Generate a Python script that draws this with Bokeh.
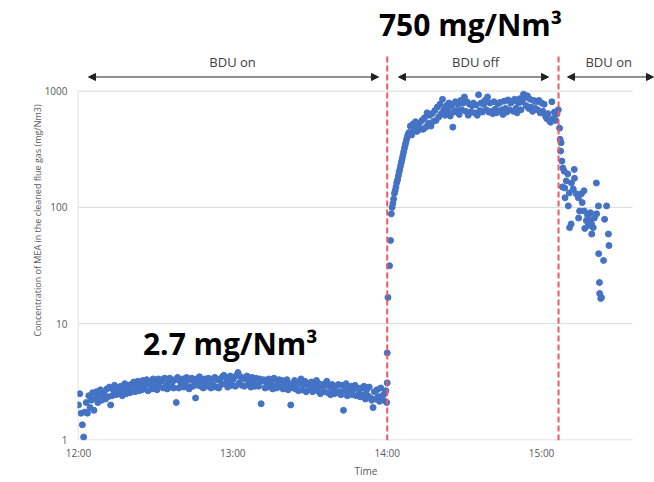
from bokeh.plotting import figure
from bokeh.models import (ColumnDataSource, FixedTicker, NumeralTickFormatter, Label,
                          Arrow, NormalHead, Range1d)
from bokeh.embed import file_html
from bokeh.resources import INLINE

# ---------------- data ----------------
tick_minutes = [0, 60, 120, 180]          # minutes after 12:00
tick_labels = ["12:00", "13:00", "14:00", "15:00"]
y_ticks = [1, 10, 100, 1000]
grid_x_extent = [-0.2, 215.4]             # minutes covered by the gridlines
switch_times = [120, 186.6]               # BDU off at 14:00, BDU on again ~15:07

# BDU on (12:00 - 14:00)
on1_t = [
    0, 0.5, 1, 1.5, 2, 2.5, 3, 3.5, 4, 4.5, 5, 5.5, 6, 6.5, 7, 7.5, 8, 8.5, 9, 9.5,
    10, 10.5, 11, 11.5, 12, 12.5, 13, 13.5, 14, 14.5, 15, 15.5, 16, 16.5, 17, 17.5, 18, 18.5, 19, 19.5,
    20, 20.5, 21, 21.5, 22, 22.5, 23, 23.5, 24, 24.5, 25, 25.5, 26, 26.5, 27, 27.5, 28, 28.5, 29, 29.5,
    30, 30.5, 31, 31.5, 32, 32.5, 33, 33.5, 34, 34.5, 35, 35.5, 36, 36.5, 37, 37.5, 38, 38.5, 39, 39.5,
    40, 40.5, 41, 41.5, 42, 42.5, 43, 43.5, 44, 44.5, 45, 45.5, 46, 46.5, 47, 47.5, 48, 48.5, 49, 49.5,
    50, 50.5, 51, 51.5, 52, 52.5, 53, 53.5, 54, 54.5, 55, 55.5, 56, 56.5, 57, 57.5, 58, 58.5, 59, 59.5,
    60, 60.5, 61, 61.5, 62, 62.5, 63, 63.5, 64, 64.5, 65, 65.5, 66, 66.5, 67, 67.5, 68, 68.5, 69, 69.5,
    70, 70.5, 71, 71.5, 72, 72.5, 73, 73.5, 74, 74.5, 75, 75.5, 76, 76.5, 77, 77.5, 78, 78.5, 79, 79.5,
    80, 80.5, 81, 81.5, 82, 82.5, 83, 83.5, 84, 84.5, 85, 85.5, 86, 86.5, 87, 87.5, 88, 88.5, 89, 89.5,
    90, 90.5, 91, 91.5, 92, 92.5, 93, 93.5, 94, 94.5, 95, 95.5, 96, 96.5, 97, 97.5, 98, 98.5, 99, 99.5,
    100, 100.5, 101, 101.5, 102, 102.5, 103, 103.5, 104, 104.5, 105, 105.5, 106, 106.5, 107, 107.5, 108, 108.5, 109, 109.5,
    110, 110.5, 111, 111.5, 112, 112.5, 113, 113.5, 114, 114.5, 115, 115.5, 116, 116.5, 117, 117.5, 118, 118.5, 119, 119.5,
    119.8, 120, 120,
]
on1_v = [
    2.0, 2.5, 1.7, 1.35, 1.06, 1.74, 2.1, 1.7, 2.4, 1.9, 2.2, 2.55, 1.8, 2.3, 2.6, 2.1, 2.45, 2.7, 2.2, 2.5,
    2.6, 2.25, 2.75, 2.35, 2.85, 2.0, 2.4, 2.7, 2.95, 2.45, 2.5, 2.8, 2.55, 2.9, 2.4, 2.75, 3.05, 2.5, 2.8, 2.95,
    2.55, 3.0, 2.65, 3.15, 2.6, 2.9, 3.2, 2.65, 3.0, 2.7, 3.25, 2.75, 3.0, 3.3, 2.65, 3.05, 3.15, 2.75, 3.35, 2.85,
    3.1, 2.7, 3.35, 2.85, 3.2, 3.3, 2.8, 3.4, 2.95, 2.75, 3.25, 3.4, 2.85, 3.15, 2.8, 3.3, 2.1, 3.45, 2.8, 3.2,
    3.0, 3.35, 2.85, 3.2, 3.45, 2.9, 2.75, 3.3, 3.4, 2.9, 3.2, 2.3, 3.35, 2.95, 3.5, 2.9, 3.2, 2.8, 3.35, 3.05,
    2.9, 3.4, 3.0, 2.8, 3.35, 2.95, 3.45, 2.85, 3.3, 2.8, 3.35, 3.0, 3.5, 3.6, 3.05, 3.4, 2.85, 3.2, 3.55, 2.95,
    3.3, 3.45, 2.9, 3.6, 3.8, 3.1, 3.5, 2.95, 3.4, 2.9, 3.35, 3.55, 3.0, 3.3, 2.85, 3.45, 3.05, 2.9, 3.4, 3.0,
    2.9, 3.35, 2.05, 3.2, 3.3, 2.8, 3.15, 2.85, 3.35, 2.9, 3.2, 2.75, 3.4, 2.9, 2.8, 3.2, 3.3, 2.85, 3.25, 2.75,
    3.1, 2.8, 3.3, 2.7, 3.05, 2.0, 2.9, 2.8, 3.25, 2.75, 3.1, 2.65, 3.05, 3.35, 2.7, 3.0, 3.2, 2.6, 3.05, 2.75,
    2.9, 3.15, 2.6, 3.0, 2.75, 3.25, 2.65, 3.05, 2.5, 2.9, 3.0, 2.6, 2.95, 3.2, 2.55, 2.9, 2.45, 3.0, 2.65, 2.5,
    2.9, 2.55, 3.0, 2.6, 2.45, 2.95, 1.8, 2.65, 3.05, 2.4, 2.8, 2.5, 2.9, 2.45, 2.75, 2.95, 2.4, 2.8, 2.5, 2.35,
    2.8, 2.45, 2.9, 2.25, 2.7, 2.4, 2.85, 2.3, 2.2, 1.9, 2.6, 2.25, 2.7, 2.35, 2.15, 2.8, 2.4, 2.2, 2.5, 2.65,
    2.1, 3.1, 5.6,
]

# BDU off (14:00 - ~15:07)
off_t = [
    120.3, 120.9, 121.3, 121.6, 121.9, 122.2, 122.5, 122.8, 123.1, 123.4, 123.7, 124.0,
    124.3, 124.6, 124.9, 125.2, 125.5, 125.8, 126.1, 126.4, 126.7, 127.0, 127.3, 127.6, 127.9, 128.2,
    128.5, 129, 129.5, 130, 130.5, 131, 131.5, 132, 132.5, 133,
    133.5, 134, 134.5, 135, 135.5, 136, 136.5, 137, 137.5, 138,
    138.5, 139, 139.5, 140, 140.5, 141, 141.5, 142, 142.5, 143,
    143.5, 144, 144.5, 145, 145.5, 146, 146.5, 147, 147.5, 148,
    148.5, 149, 149.5, 150, 150.5, 151, 151.5, 152, 152.5, 153,
    153.5, 154, 154.5, 155, 155.5, 156, 156.5, 157, 157.5, 158,
    158.5, 159, 159.5, 160, 160.5, 161, 161.5, 162, 162.5, 163,
    163.5, 164, 164.5, 165, 165.5, 166, 166.5, 167, 167.5, 168,
    168.5, 169, 169.5, 170, 170.5, 171, 171.5, 172, 172.5, 173,
    173.5, 174, 174.5, 175, 175.5, 176, 176.5, 177, 177.5, 178,
    178.5, 179, 179.5, 180, 180.5, 181, 181.5, 182, 182.5, 183,
    183.5, 184, 184.5, 185, 185.5, 186, 186.5,
]
off_v = [
    16.8, 31.5, 52, 88, 100, 108, 118, 132, 140, 150, 163, 172,
    186, 200, 212, 228, 245, 262, 280, 300, 322, 345, 365, 390, 410, 430,
    440, 500, 420, 520, 460, 545, 450, 505, 530, 470,
    560, 470, 590, 490, 650, 530, 620, 500, 640, 550,
    680, 560, 730, 600, 770, 640, 850, 690, 620, 750,
    670, 790, 610, 740, 490, 660, 810, 680, 770, 630,
    830, 690, 790, 890, 670, 810, 620, 770, 660, 750,
    790, 650, 760, 620, 930, 680, 790, 660, 770, 830,
    690, 890, 660, 790, 670, 640, 810, 700, 650, 780,
    670, 800, 690, 630, 820, 710, 660, 840, 690, 790,
    810, 670, 850, 710, 650, 790, 860, 690, 810, 940,
    880, 750, 910, 710, 850, 730, 670, 830, 710, 810,
    690, 830, 650, 790, 670, 770, 610, 580, 640, 560,
    540, 810, 580, 660, 560, 640, 690,
]

# BDU on again (~15:07 onwards)
on2_t = [
    187.0, 187.2, 187.4, 187.6, 187.9, 188.1, 188.3, 188.8, 189.0, 189.1, 189.6, 190.2,
    190.4, 190.8, 190.9, 191.5, 191.6, 192.3, 192.7, 192.8, 193.5, 194.3, 194.4, 194.8,
    195.5, 195.8, 196.5, 196.6, 196.8, 197.4, 197.9, 198.2, 198.6, 199.0, 199.4, 199.5,
    200.1, 200.5, 201.3, 201.4, 202.1, 202.2, 202.5, 202.6, 203.0, 203.3, 204.1, 204.5,
    205.3, 206.0, 206.2,
]
on2_v = [
    480, 385, 305, 360, 250, 150, 218, 205, 147, 121, 169, 194,
    103, 133, 67, 72, 162, 144, 212, 178, 131, 121, 81, 93,
    131, 110, 139, 93, 66, 77, 85, 70, 77, 90, 72, 59,
    67, 81, 162, 88, 103, 40, 22.6, 18.2, 16.5, 16.8, 35, 79,
    103, 59, 47,
]

# annotation spans (minutes) and texts
bdu_spans = [(3.9, 116.6), (124.4, 182.7), (190.1, 223.5)]
bdu_texts = ["BDU on", "BDU off", "BDU on"]
bdu_text_x = [59.9, 154.4, 206.1]
big_texts = ["750 mg/Nm³", "2.7 mg/Nm³"]
big_text_x = [152.4, 59.0]
big_text_y = [3702, 6.82]

# ---------------- figure ----------------
all_t = on1_t + off_t + on2_t
all_v = on1_v + off_v + on2_v
src = ColumnDataSource(data=dict(t=all_t, v=all_v))

p = figure(width=654, height=482, y_axis_type="log",
           x_range=Range1d(-0.39, 223.9), y_range=Range1d(0.99, 6012),
           output_backend="svg", toolbar_location=None,
           min_border_left=77, min_border_right=0, min_border_top=0, min_border_bottom=42)
p.outline_line_color = None
p.background_fill_color = "white"
p.xgrid.grid_line_color = None
p.ygrid.grid_line_color = None

# gridlines (limited to the plot area, the upper part holds annotations)
p.segment(x0=[grid_x_extent[0]] * len(y_ticks), x1=[grid_x_extent[1]] * len(y_ticks),
          y0=y_ticks, y1=y_ticks, line_color="#d9d9d9", line_width=1)
p.segment(x0=[grid_x_extent[0]], x1=[grid_x_extent[0]], y0=[y_ticks[0]], y1=[y_ticks[-1]],
          line_color="#d9d9d9", line_width=1)

p.scatter("t", "v", source=src, size=6, color="#4472C4", alpha=1.0)

font = "Open Sans"
p.xaxis.ticker = FixedTicker(ticks=tick_minutes)
p.xaxis.major_label_overrides = {m: s for m, s in zip(tick_minutes, tick_labels)}
p.xaxis.bounds = (0, 216)
p.yaxis.ticker = FixedTicker(ticks=y_ticks)
p.yaxis.formatter = NumeralTickFormatter(format="0")
p.yaxis.bounds = (1, 1000)
for ax in (p.xaxis[0], p.yaxis[0]):
    ax.axis_line_color = None
    ax.major_tick_line_color = None
    ax.minor_tick_line_color = None
    ax.major_tick_out = 0
    ax.major_tick_in = 0
    ax.minor_tick_out = 0
    ax.major_label_text_font = font
    ax.major_label_text_font_size = "10px"
    ax.major_label_text_color = "#595959"
    ax.axis_label_text_font = font
    ax.axis_label_text_font_style = "normal"
    ax.axis_label_text_color = "#595959"
p.xaxis.major_label_standoff = 5
p.xaxis.axis_label = "Time"
p.xaxis.axis_label_text_font_size = "10px"
p.xaxis.axis_label_standoff = 1
p.yaxis.major_label_standoff = 10
p.yaxis.axis_label = "Concentration of MEA in the cleaned flue gas (mg/Nm3)"
p.yaxis.axis_label_text_font_size = "9px"
p.yaxis.axis_label_standoff = -2

# red dashed switch lines
for st in switch_times:
    p.add_layout(Arrow(x_start=st, y_start=0.99, x_end=st, y_end=2084, end=None,
                       line_color="#f05a62", line_width=2, line_dash="6 3"))

# BDU arrows and labels
arrow_y = 1322
for (a, b), txt, tx in zip(bdu_spans, bdu_texts, bdu_text_x):
    p.add_layout(Arrow(x_start=a, y_start=arrow_y, x_end=b, y_end=arrow_y,
                       start=NormalHead(size=7, fill_color="#222222", line_color="#222222"),
                       end=NormalHead(size=7, fill_color="#222222", line_color="#222222"),
                       line_color="#222222", line_width=1))
    p.add_layout(Label(x=tx, y=1778, text=txt, text_font=font, text_font_size="13px",
                       text_color="#404040", text_align="center", text_baseline="middle"))

# Big value annotations
for txt, bx, by in zip(big_texts, big_text_x, big_text_y):
    p.add_layout(Label(x=bx, y=by, text=txt, text_font=font, text_font_size="30px",
                       text_font_style="bold", text_color="black",
                       text_align="center", text_baseline="middle"))

open("out.html", "w").write(file_html(p, INLINE))
